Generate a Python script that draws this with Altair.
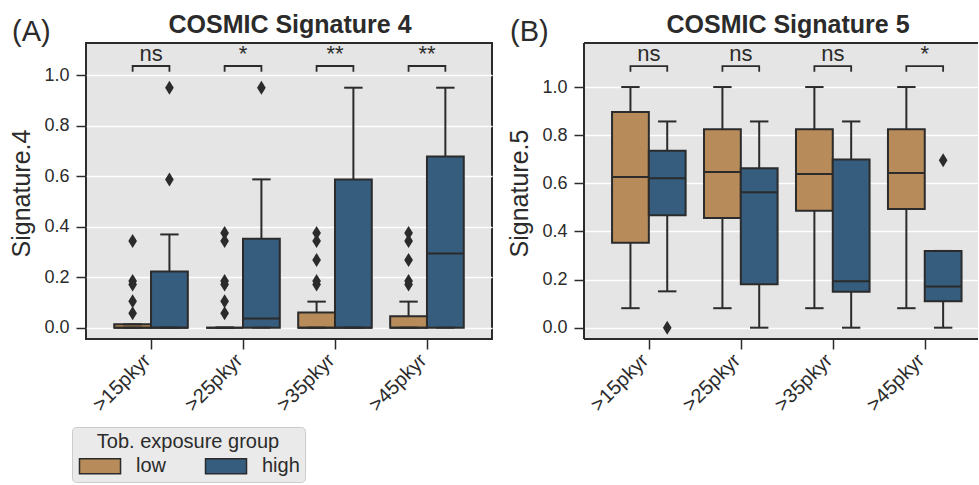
import json
import altair as alt
import pandas as pd

# ---------------- data ----------------
categories = [">15pkyr", ">25pkyr", ">35pkyr", ">45pkyr"]
groups = ["low", "high"]

# COSMIC Signature 4 (panel A): whisker low, Q1, median, Q3, whisker high
s4_low_whislo = [0.0, 0.0, 0.0, 0.0]
s4_low_q1 = [0.0, 0.0, 0.0, 0.0]
s4_low_median = [0.0, 0.0, 0.0, 0.0]
s4_low_q3 = [0.013, 0.0, 0.06, 0.045]
s4_low_whishi = [0.013, 0.0, 0.103, 0.103]
s4_high_whislo = [0.0, 0.0, 0.0, 0.0]
s4_high_q1 = [0.0, 0.0, 0.0, 0.0]
s4_high_median = [0.0, 0.036, 0.0, 0.294]
s4_high_q3 = [0.222, 0.352, 0.587, 0.678]
s4_high_whishi = [0.369, 0.587, 0.95, 0.95]
s4_low_outliers = [
    [0.343, 0.185, 0.171, 0.104, 0.057],
    [0.375, 0.343, 0.185, 0.171, 0.104, 0.057],
    [0.375, 0.343, 0.268, 0.185, 0.171],
    [0.375, 0.343, 0.268, 0.185, 0.171],
]
s4_high_outliers = [[0.587, 0.95], [0.95], [], []]
s4_signif = ["ns", "*", "**", "**"]

# COSMIC Signature 5 (panel B)
s5_low_whislo = [0.081, 0.081, 0.081, 0.081]
s5_low_q1 = [0.353, 0.456, 0.486, 0.493]
s5_low_median = [0.626, 0.647, 0.639, 0.643]
s5_low_q3 = [0.896, 0.825, 0.825, 0.825]
s5_low_whishi = [1.0, 1.0, 1.0, 1.0]
s5_high_whislo = [0.151, 0.0, 0.0, 0.0]
s5_high_q1 = [0.467, 0.18, 0.149, 0.11]
s5_high_median = [0.621, 0.5625, 0.193, 0.171]
s5_high_q3 = [0.735, 0.6625, 0.699, 0.319]
s5_high_whishi = [0.857, 0.857, 0.857, 0.319]
s5_low_outliers = [[], [], [], []]
s5_high_outliers = [[0.0], [], [], [0.696]]
s5_signif = ["ns", "ns", "ns", "*"]

# significance bracket levels (top of bracket, leg length) in data units
s4_bracket = (1.036, 0.023)
s5_bracket = (1.087, 0.023)

# ---------------- style ----------------
DARK = "#2b2b2b"
TAN = "#b88c5a"
BLUE = "#365c7e"
BG = "#e5e5e5"
FONT = "Liberation Sans"
H = 296
BOX_W = 0.4
CAP_W = 0.2
TITLE_X = 204


def box_table(stats):
    rows = []
    for gi, g in enumerate(groups):
        off = (gi - 0.5) * BOX_W
        lo, q1, med, q3, hi = stats[g]
        for i, c in enumerate(categories):
            pos = i + off
            rows.append(dict(cat=c, grp=g, pos=pos,
                             xl=pos - BOX_W / 2, xr=pos + BOX_W / 2,
                             cl=pos - CAP_W / 2, cr=pos + CAP_W / 2,
                             whislo=lo[i], q1=q1[i], med=med[i], q3=q3[i], whishi=hi[i]))
    return pd.DataFrame(rows)


def outlier_table(outs):
    rows = []
    for gi, g in enumerate(groups):
        off = (gi - 0.5) * BOX_W
        for i, vals in enumerate(outs[g]):
            for v in vals:
                rows.append(dict(grp=g, pos=i + off, value=v))
    return pd.DataFrame(rows, columns=["grp", "pos", "value"])


def bracket_tables(bracket, signif):
    yt, h = bracket
    rows, txt = [], []
    for i, c in enumerate(categories):
        a, b = i - BOX_W / 2, i + BOX_W / 2
        for o, (x, y) in enumerate([(a, yt - h), (a, yt), (b, yt), (b, yt - h)]):
            rows.append(dict(cat=c, o=o, bx=x, by=y))
        txt.append(dict(cat=c, tx=i, ty=yt, label=signif[i]))
    return pd.DataFrame(rows), pd.DataFrame(txt)


COLOR = alt.Color(
    "grp:N",
    scale=alt.Scale(domain=groups, range=[TAN, BLUE]),
    legend=alt.Legend(
        title="Tob. exposure group",
        orient="none",
        legendX=-14,
        legendY=384,
        direction="horizontal",
        columns=2,
        titleFontSize=20,
        titleFontWeight="normal",
        titleAnchor="middle",
        titleColor=DARK,
        titlePadding=4,
        titleLimit=400,
        labelFontSize=20,
        labelColor=DARK,
        labelOffset=39,
        columnPadding=35,
        symbolType="M-1,-1H4.47V1H-1Z",
        symbolSize=225,
        symbolStrokeColor=DARK,
        symbolStrokeWidth=1.5,
        symbolOpacity=1,
        padding=5,
        fillColor="#eaeaea",
        strokeColor="#cccccc",
        cornerRadius=4,
    ),
)


def panel(stats, outs, bracket, signif, xdom, ydom, width, title, ytitle, tag, open_right):
    bdf = box_table(stats)
    odf = outlier_table(outs)
    brdf, txdf = bracket_tables(bracket, signif)

    xs = alt.Scale(domain=xdom, nice=False, zero=False)
    ys = alt.Scale(domain=ydom, nice=False, zero=False)
    xa = alt.Axis(values=[0, 1, 2, 3], labelExpr=json.dumps(categories) + "[datum.value]",
                  labelAngle=315, labelAlign="right", labelBaseline="middle",
                  labelFontSize=20, labelColor=DARK, labelPadding=8, labelOffset=-4,
                  tickSize=10, tickWidth=1.5, tickColor=DARK, domain=False, grid=False,
                  title=None)
    ya = alt.Axis(values=[0, 0.2, 0.4, 0.6, 0.8, 1.0], format=".1f",
                  labelFontSize=18, labelColor=DARK, labelPadding=7,
                  tickSize=10, tickWidth=1.5, tickColor=DARK, domain=False,
                  grid=True, gridColor="white", gridWidth=1.5,
                  title=ytitle, titleFontSize=25, titleFontWeight="normal", titleColor=DARK,
                  titleAngle=270, titleAlign="center", titleBaseline="middle",
                  titleX=-65, titleY=150, titleLimit=400)

    def X(f):
        return alt.X(f, type="quantitative", scale=xs, axis=xa)

    def Y(f):
        return alt.Y(f, type="quantitative", scale=ys, axis=ya)

    base = alt.Chart(bdf)
    whisk = base.mark_rule(color=DARK, strokeWidth=2).encode(x=X("pos"), y=Y("whislo"), y2="whishi")
    box = base.mark_bar(stroke=DARK, strokeWidth=2, opacity=1).encode(
        x=X("xl"), x2="xr", y=Y("q1"), y2="q3", color=COLOR)
    med = base.mark_rule(color=DARK, strokeWidth=2).encode(x=X("xl"), x2="xr", y=Y("med"))
    cap_lo = base.mark_rule(color=DARK, strokeWidth=2).encode(x=X("cl"), x2="cr", y=Y("whislo"))
    cap_hi = base.mark_rule(color=DARK, strokeWidth=2).encode(x=X("cl"), x2="cr", y=Y("whishi"))
    layers = [whisk, box, med, cap_lo, cap_hi]
    if len(odf):
        pts = alt.Chart(odf).mark_point(
            shape="M0,-1L0.62,0L0,1L-0.62,0Z", size=196, filled=True, color=DARK, opacity=1
        ).encode(x=X("pos"), y=Y("value"))
        layers.append(pts)
    br = alt.Chart(brdf).mark_line(color=DARK, strokeWidth=1.8).encode(
        x=X("bx"), y=Y("by"), detail="cat:N", order="o:O")
    tx = alt.Chart(txdf).mark_text(baseline="alphabetic", dy=-5, fontSize=22, color=DARK).encode(
        x=X("tx"), y=Y("ty"), text="label:N")
    tag_df = pd.DataFrame({"t": [tag], "title": [title]})
    tg = alt.Chart(tag_df).mark_text(align="left", baseline="alphabetic", fontSize=29, color=DARK).encode(
        x=alt.value(-74), y=alt.value(-2), text="t:N")
    tt = alt.Chart(tag_df).mark_text(align="center", baseline="alphabetic", fontSize=25,
                                     fontWeight="bold", color=DARK).encode(
        x=alt.value(TITLE_X), y=alt.value(-10), text="title:N")
    layers += [br, tx, tg, tt]
    if open_right:
        fr = alt.Chart(tag_df)
        layers += [
            fr.mark_rule(color=DARK, strokeWidth=2).encode(x=alt.value(0), y=alt.value(0), y2=alt.value(H)),
            fr.mark_rule(color=DARK, strokeWidth=2).encode(x=alt.value(0), x2=alt.value(width), y=alt.value(0)),
            fr.mark_rule(color=DARK, strokeWidth=2).encode(x=alt.value(0), x2=alt.value(width), y=alt.value(H)),
        ]
        view = alt.ViewBackground(fill=BG, strokeWidth=0)
    else:
        view = alt.ViewBackground(fill=BG, stroke=DARK, strokeWidth=2)
    return alt.layer(*layers).properties(width=width, height=H, view=view)


pA = panel(
    {"low": (s4_low_whislo, s4_low_q1, s4_low_median, s4_low_q3, s4_low_whishi),
     "high": (s4_high_whislo, s4_high_q1, s4_high_median, s4_high_q3, s4_high_whishi)},
    {"low": s4_low_outliers, "high": s4_high_outliers},
    s4_bracket, s4_signif, [-0.707, 3.707], [-0.045, 1.127], 406,
    "COSMIC Signature 4", "Signature.4", "(A)", False)

pB = panel(
    {"low": (s5_low_whislo, s5_low_q1, s5_low_median, s5_low_q3, s5_low_whishi),
     "high": (s5_high_whislo, s5_high_q1, s5_high_median, s5_high_q3, s5_high_whishi)},
    {"low": s5_low_outliers, "high": s5_high_outliers},
    s5_bracket, s5_signif, [-0.705, 3.579], [-0.047, 1.183], 394,
    "COSMIC Signature 5", "Signature.5", "(B)", True)

chart = alt.hconcat(pA, pB, spacing=92, bounds="flush").properties(
    padding={"left": 8, "top": 12, "right": 0, "bottom": 0}
).configure(font=FONT).configure_view(fill=BG)

chart.save("out.html", embed_options={"renderer": "svg", "actions": False})
